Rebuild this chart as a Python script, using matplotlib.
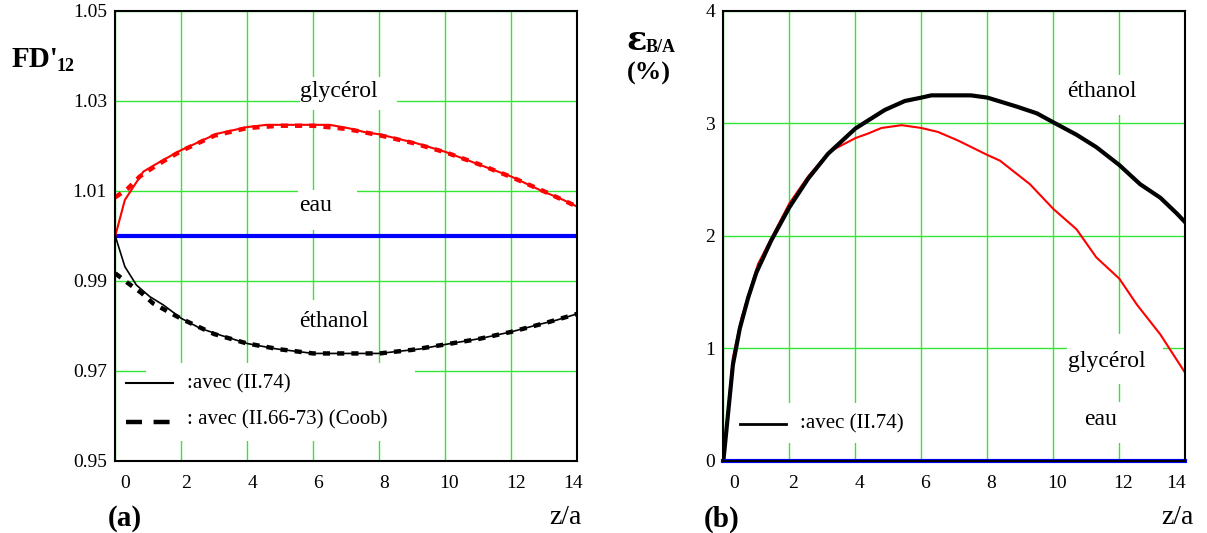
import matplotlib
matplotlib.use("Agg")
import matplotlib.pyplot as plt
from matplotlib.patches import Rectangle
from matplotlib.transforms import ScaledTranslation

plt.rcParams['font.family'] = ['Liberation Serif', 'DejaVu Serif']

# ---------------- donnees (a) : FD'12 ----------------
x_gly_a = [0, 0.29, 0.85, 1.36, 2, 2.57, 3.07, 4, 4.59, 6, 6.5, 7.1, 7.6, 8, 9.13, 10, 11.05, 12, 12.87, 13.58, 14]
y_gly_a = [1.000, 1.0080, 1.0143, 1.0165, 1.0191, 1.0210, 1.0227, 1.0242, 1.0247, 1.0247, 1.0247, 1.0239, 1.0230,
           1.0226, 1.0206, 1.0187, 1.0158, 1.0132, 1.0102, 1.0080, 1.0065]

x_gly_a_coob = [0, 0.39, 0.74, 1.1, 1.5, 2, 3, 4, 5, 6, 7, 8, 9, 10, 11, 12, 13, 14]
y_gly_a_coob = [1.0086, 1.0106, 1.0132, 1.0150, 1.0168, 1.0189, 1.0223, 1.0240, 1.0245, 1.0245, 1.0238, 1.0224,
                1.0207, 1.0186, 1.0160, 1.0131, 1.0099, 1.0065]

x_eth_a = [0, 0.29, 0.64, 1.05, 1.45, 2, 2.57, 3.17, 4, 4.89, 6, 7, 8, 9.24, 10, 11.05, 12, 12.87, 13.37, 14]
y_eth_a = [1.000, 0.9932, 0.9891, 0.9865, 0.9847, 0.9817, 0.9795, 0.9780, 0.9761, 0.9749, 0.9739, 0.9739, 0.9739,
           0.9749, 0.9759, 0.9772, 0.9787, 0.9804, 0.9813, 0.9827]

x_eth_a_coob = [0, 0.39, 0.8, 1.15, 1.5, 2, 3, 4, 5, 6, 7, 8, 9, 10, 11, 12, 13, 14]
y_eth_a_coob = [0.9917, 0.9895, 0.9873, 0.9850, 0.9836, 0.9816, 0.9782, 0.9761, 0.9748, 0.9739, 0.9739, 0.9739,
                0.9747, 0.9759, 0.9771, 0.9787, 0.9806, 0.9827]

x_eau_a = [0, 14]
y_eau_a = [1.0, 1.0]

# ---------------- donnees (b) : epsilon B/A (%) ----------------
x_eth_b = [0, 0.29, 0.5, 0.75, 1.0, 1.45, 2, 2.57, 3.17, 4, 4.89, 5.5, 6, 6.3, 7.1, 7.5, 8, 8.89, 9.5, 10,
           10.7, 11.3, 12, 12.63, 13.24, 13.74, 14]
y_eth_b = [0, 0.857, 1.18, 1.45, 1.675, 1.96, 2.255, 2.51, 2.73, 2.955, 3.12, 3.20, 3.23, 3.25, 3.25, 3.25, 3.23,
           3.15, 3.09, 3.01, 2.90, 2.79, 2.63, 2.46, 2.34, 2.20, 2.12]

x_gly_b = [0, 0.29, 0.55, 1.05, 2, 2.57, 3.22, 4, 4.38, 4.79, 5.4, 6, 6.5, 7.1, 8, 8.38, 9.29, 10, 10.7, 11.3,
           12, 12.53, 13.24, 14]
y_gly_b = [0, 0.92, 1.27, 1.75, 2.29, 2.53, 2.75, 2.87, 2.91, 2.96, 2.985, 2.96, 2.925, 2.85, 2.72, 2.67, 2.46,
           2.24, 2.06, 1.81, 1.62, 1.39, 1.125, 0.78]

x_eau_b = [0, 14]
y_eau_b = [0, 0]

x_ticks = [0, 2, 4, 6, 8, 10, 12, 14]
y_ticks_a = [0.95, 0.97, 0.99, 1.01, 1.03, 1.05]
y_labels_a = ["0.95", "0.97", "0.99", "1.01", "1.03", "1.05"]
y_ticks_b = [0, 1, 2, 3, 4]

vert = '#33e633'
rouge = '#ff0000'
bleu = '#0000ff'


def prepare_axe(ax, yticks, ylabels, ylim, decal):
    ax.set_xlim(0, 14)
    ax.set_ylim(*ylim)
    ax.set_xticks(x_ticks)
    ax.set_yticks(yticks)
    ax.set_yticklabels(ylabels)
    ax.tick_params(length=0, labelsize=14)
    ax.tick_params(axis='x', pad=10)
    ax.tick_params(axis='y', pad=6)
    ax.grid(True, color=vert, linewidth=1.0)
    ax.set_axisbelow(True)
    for s in ax.spines.values():
        s.set_linewidth(1.5)
        s.set_color('black')
        s.set_zorder(6)
    # les etiquettes x sont decalees comme dans l'original
    for lab, d in zip(ax.get_xticklabels(), decal):
        lab.set_transform(lab.get_transform() + ScaledTranslation(d / 100, 0, fig.dpi_scale_trans))


def cache(ax, x0, y0, x1, y1):
    ax.add_patch(Rectangle((x0, y0), x1 - x0, y1 - y0, transform=ax.transAxes,
                           facecolor='white', edgecolor='none', zorder=1.5))


fig = plt.figure(figsize=(12.07, 5.33), dpi=100)
ax1 = fig.add_axes([0.0955, 0.1351, 0.3828, 0.8443])
ax2 = fig.add_axes([0.5993, 0.1351, 0.3828, 0.8443])

# ---------------- (a) ----------------
prepare_axe(ax1, y_ticks_a, y_labels_a, (0.95, 1.05), [10, 5, 5, 5, 5, 4, 5, -4])

cache(ax1, 0.40, 0.78, 0.609, 0.853)
cache(ax1, 0.395, 0.513, 0.523, 0.602)
cache(ax1, 0.378, 0.218, 0.562, 0.358)
cache(ax1, 0.066, 0.044, 0.649, 0.218)

ax1.plot(x_eau_a, y_eau_a, color=bleu, linewidth=3.0, zorder=3)
ax1.plot(x_gly_a_coob, y_gly_a_coob, color=rouge, linewidth=3.2, dashes=(1.6, 1.6), zorder=3)
ax1.plot(x_gly_a, y_gly_a, color=rouge, linewidth=1.5, zorder=4)
ax1.plot(x_eth_a_coob, y_eth_a_coob, color='black', linewidth=3.2, dashes=(1.6, 1.6), zorder=3)
ax1.plot(x_eth_a, y_eth_a, color='black', linewidth=1.2, zorder=4)

ax1.text(0.484, 0.82, "glycérol", transform=ax1.transAxes, fontsize=17, ha='center', va='center', zorder=5)
ax1.text(0.434, 0.567, "eau", transform=ax1.transAxes, fontsize=17, ha='center', va='center', zorder=5)
ax1.text(0.473, 0.309, "éthanol", transform=ax1.transAxes, fontsize=17, ha='center', va='center', zorder=5)

# legende (a)
ax1.plot([0.023, 0.125], [0.173, 0.173], transform=ax1.transAxes, color='black', linewidth=1.5, zorder=5)
ax1.text(0.155, 0.171, ":avec (II.74)", transform=ax1.transAxes, fontsize=15, va='center', zorder=5)
ax1.plot([0.023, 0.12], [0.087, 0.087], transform=ax1.transAxes, color='black', linewidth=3.2,
         dashes=(3.6, 2.6), zorder=5)
ax1.text(0.155, 0.091, ": avec (II.66-73) (Coob)", transform=ax1.transAxes, fontsize=15, va='center', zorder=5)

# ---------------- (b) ----------------
prepare_axe(ax2, y_ticks_b, [str(v) for v in y_ticks_b], (0, 4), [11, 4, 4, 4, 4, 4, 4, -9])

cache(ax2, 0.729, 0.769, 0.913, 0.858)
cache(ax2, 0.744, 0.171, 0.952, 0.282)
cache(ax2, 0.761, 0.039, 0.87, 0.132)
cache(ax2, 0.07, 0.039, 0.42, 0.128)

ax2.plot(x_eau_b, y_eau_b, color=bleu, linewidth=3.0, zorder=4, clip_on=False)
ax2.plot(x_gly_b, y_gly_b, color=rouge, linewidth=1.5, zorder=3)
ax2.plot(x_eth_b, y_eth_b, color='black', linewidth=3.0, zorder=3)

ax2.text(0.820, 0.820, "éthanol", transform=ax2.transAxes, fontsize=17, ha='center', va='center', zorder=5)
ax2.text(0.829, 0.220, "glycérol", transform=ax2.transAxes, fontsize=17, ha='center', va='center', zorder=5)
ax2.text(0.816, 0.092, "eau", transform=ax2.transAxes, fontsize=17, ha='center', va='center', zorder=5)

ax2.plot([0.036, 0.136], [0.083, 0.083], transform=ax2.transAxes, color='black', linewidth=2.0, zorder=5)
ax2.text(0.166, 0.083, ":avec (II.74)", transform=ax2.transAxes, fontsize=15, va='center', zorder=5)

# ---------------- titres et axes ----------------
W, H = 1207.0, 533.0
fig.text(12 / W, 1 - 67 / H, "FD'", fontsize=21, fontweight='bold', ha='left', va='baseline')
fig.text(57 / W, 1 - 71 / H, "12", fontsize=13, fontweight='bold', ha='left', va='baseline')

fig.text(626 / W, 1 - 50 / H, "ε", fontsize=24, fontweight='bold', ha='left', va='baseline',
         family=['DejaVu Serif'])
fig.text(646 / W, 1 - 52 / H, "B/A", fontsize=13, fontweight='bold', ha='left', va='baseline')
fig.text(627 / W, 1 - 80 / H, "(%)", fontsize=19, fontweight='bold', ha='left', va='baseline')

fig.text(125 / W, 1 - 519 / H, "(a)", fontsize=21, fontweight='bold', ha='center', va='center')
fig.text(722 / W, 1 - 519 / H, "(b)", fontsize=21, fontweight='bold', ha='center', va='center')
fig.text(565 / W, 1 - 517 / H, "z/a", fontsize=20, ha='center', va='center')
fig.text(1177 / W, 1 - 517 / H, "z/a", fontsize=20, ha='center', va='center')

fig.savefig("out.png", dpi=100)
